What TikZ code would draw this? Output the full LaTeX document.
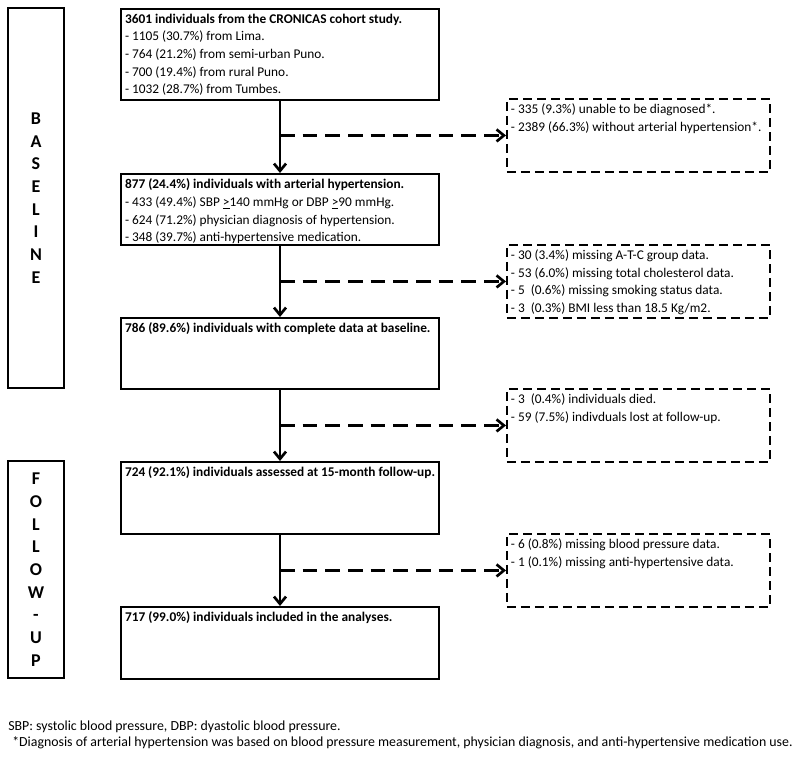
\documentclass[tikz,border=0pt]{standalone}
\usepackage{fontspec}
\setmainfont{Carlito}
\usepackage{tikz}
\usetikzlibrary{arrows.meta}

\newcommand{\boxtxt}[3]{\parbox[c][#1][t]{#2}{#3}}

\begin{document}
\begin{tikzpicture}[x=0.75pt, y=-0.75pt,
	mainbox/.style={draw, line width=1.5pt, anchor=north west, inner xsep=3pt, inner ysep=3.5pt, align=left, font=\fontsize{10}{13.3}\selectfont},
	lossbox/.style={draw, line width=1.4pt, dash pattern=on 7pt off 3.5pt, anchor=north west, inner xsep=3pt, inner ysep=3.5pt, align=left, font=\fontsize{10}{13.3}\selectfont},
	phasebox/.style={draw, line width=1.3pt, minimum width=42pt, align=center, font=\fontsize{13.5}{17}\selectfont\bfseries},
	flow/.style={line width=2.2pt, -{Straight Barb[length=5.5pt, width=9pt, line width=2pt]}},
	drop/.style={line width=2.2pt, dash pattern=on 11pt off 6pt, -{Straight Barb[length=5.5pt, width=9pt, line width=2pt]}}]
	% Fix the page size
	\useasboundingbox (0,0) rectangle (800,758);
	
	% Phase labels on the left
	\node[phasebox, minimum height=285pt] (baseline) at (36,198) {B\\A\\S\\E\\L\\I\\N\\E};
	\node[phasebox, minimum height=162.75pt] (followup) at (36,569.5) {F\\O\\L\\L\\O\\W\\-\\U\\P};
	
	% Main flow boxes
	\node[mainbox] (b1) at (120,8) {\boxtxt{61.25pt}{232.5pt}{\textbf{3601 individuals from the CRONICAS cohort study.}\\
		- 1105 (30.7\%) from Lima.\\
		- 764 (21.2\%) from semi-urban Puno.\\
		- 700 (19.4\%) from rural Puno.\\
		- 1032 (28.7\%) from Tumbes.}};
	\node[mainbox] (b2) at (120,173) {\boxtxt{46.25pt}{232.5pt}{\textbf{877 (24.4\%) individuals with arterial hypertension.}\\
		- 433 (49.4\%) SBP \underline{>}140 mmHg or DBP \underline{>}90 mmHg.\\
		- 624 (71.2\%) physician diagnosis of hypertension.\\
		- 348 (39.7\%) anti-hypertensive medication.}};
	\node[mainbox] (b3) at (120,317) {\boxtxt{46.25pt}{232.5pt}{\textbf{786 (89.6\%) individuals with complete data at baseline.}}};
	\node[mainbox] (b4) at (120,461) {\boxtxt{47pt}{232.5pt}{\textbf{724 (92.1\%) individuals assessed at 15-month follow-up.}}};
	\node[mainbox] (b5) at (120,606) {\boxtxt{47pt}{232.5pt}{\textbf{717 (99.0\%) individuals included in the analyses.}}};
	
	% Excluded boxes on the right
	\node[lossbox] (r1) at (506,98) {\boxtxt{47.75pt}{191.25pt}{- 335 (9.3\%) unable to be diagnosed*.\\
		- 2389 (66.3\%) without arterial hypertension*.}};
	\node[lossbox] (r2) at (506,244) {\boxtxt{47.75pt}{191.25pt}{- 30 (3.4\%) missing A-T-C group data.\\
		- 53 (6.0\%) missing total cholesterol data.\\
		- 5\ \ (0.6\%) missing smoking status data.\\
		- 3\ \ (0.3\%) BMI less than 18.5 Kg/m2.}};
	\node[lossbox] (r3) at (506,388) {\boxtxt{47.75pt}{191.25pt}{- 3\ \ (0.4\%) individuals died.\\
		- 59 (7.5\%) indivduals lost at follow-up.}};
	\node[lossbox] (r4) at (506,533) {\boxtxt{47.75pt}{191.25pt}{- 6 (0.8\%) missing blood pressure data.\\
		- 1 (0.1\%) missing anti-hypertensive data.}};
	
	% Arrows down
	\draw[flow] (b1) -- (b2);
	\draw[flow] (b2) -- (b3);
	\draw[flow] (b3) -- (b4);
	\draw[flow] (b4) -- (b5);
	
	% Dashed arrows to the right
	\draw[drop] (b1.south |- r1.west) -- (r1.west);
	\draw[drop] (b2.south |- r2.west) -- (r2.west);
	\draw[drop] (b3.south |- r3.west) -- (r3.west);
	\draw[drop] (b4.south |- r4.west) -- (r4.west);
	
	% Footnotes
	\node[anchor=west, inner sep=0pt, font=\fontsize{10.4}{12}\selectfont] (note1) at (8,727) {SBP: systolic blood pressure, DBP: dyastolic blood pressure.};
	\node[anchor=west, inner sep=0pt, font=\fontsize{10.4}{12}\selectfont] (note2) at (12,743) {*Diagnosis of arterial hypertension was based on blood pressure measurement, physician diagnosis, and anti-hypertensive medication use.};
\end{tikzpicture}
\end{document}
